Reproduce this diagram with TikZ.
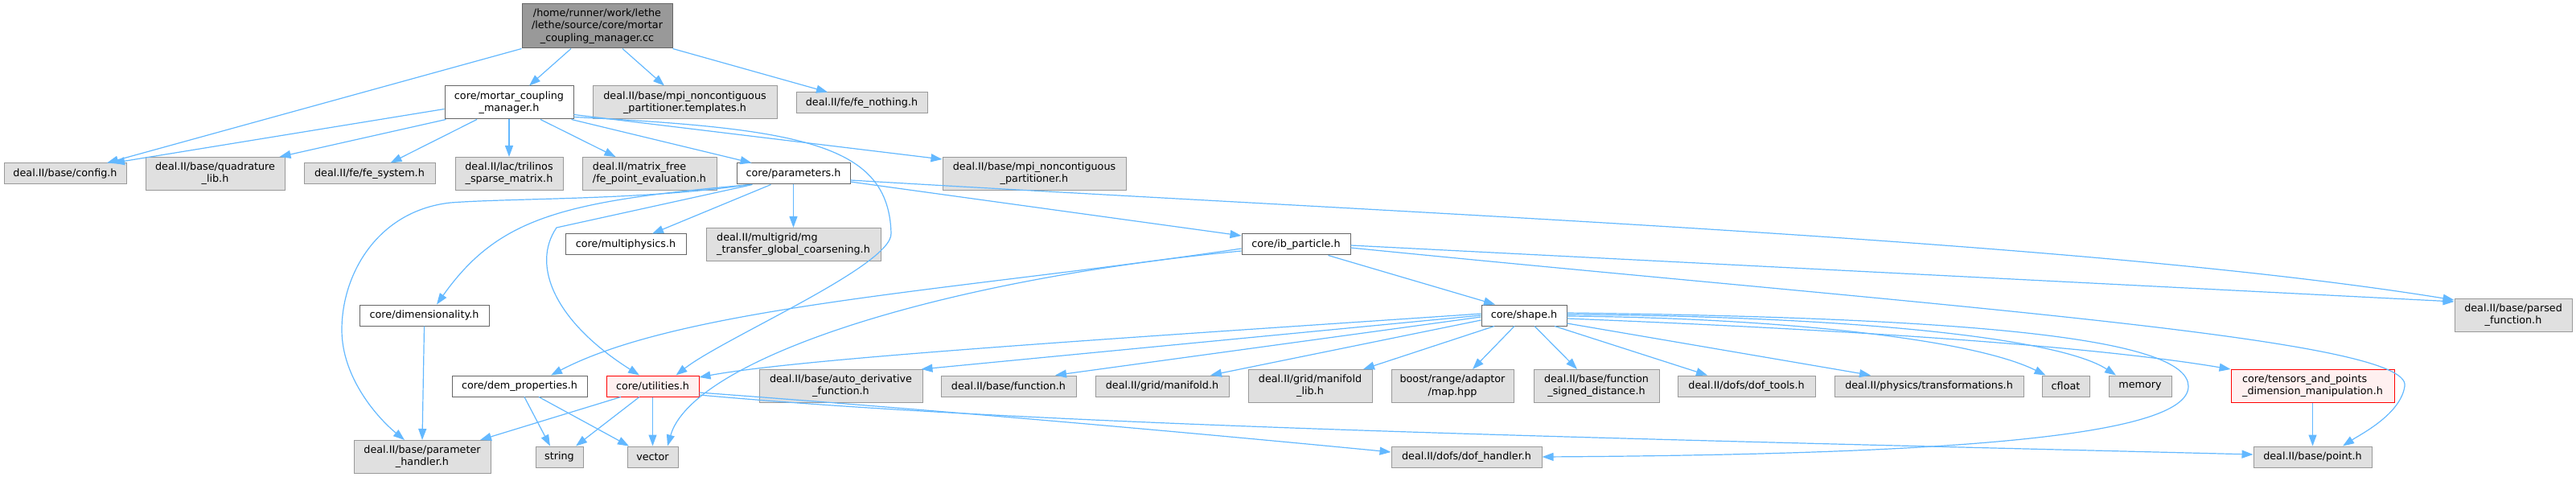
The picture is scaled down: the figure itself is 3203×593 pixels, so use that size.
\documentclass[tikz,border=0pt]{standalone}
\usepackage{fontspec}
\setmainfont{DejaVu Sans}
\usetikzlibrary{arrows.meta}
\definecolor{edgeblue}{HTML}{63B8FF}
\definecolor{boxgrey}{HTML}{E0E0E0}
\definecolor{bordergrey}{HTML}{999999}
\definecolor{borderdark}{HTML}{666666}
\definecolor{rootgrey}{HTML}{999999}
\definecolor{redfill}{HTML}{FFF0F0}
\definecolor{redline}{HTML}{FF0000}
\begin{document}
\begin{tikzpicture}[x=1pt,y=-1pt,
  box/.style={draw, line width=1pt, inner sep=0pt, align=center, anchor=center,
    font=\fontsize{12.75}{15.3}\selectfont, text=black},
  greybox/.style={box, fill=boxgrey, draw=bordergrey},
  whitebox/.style={box, fill=white, draw=borderdark},
  rootbox/.style={box, fill=rootgrey, draw=borderdark},
  redbox/.style={box, fill=redfill, draw=redline},
  one/.style={minimum height=26pt},
  two/.style={minimum height=41pt},
  three/.style={minimum height=55pt},
  edge/.style={draw=edgeblue, line width=1.2pt, -{Triangle[length=14pt,width=10pt]}}
]
\useasboundingbox (0,0) rectangle (3203,593);

% ---------- nodes ----------
\node[rootbox, three, minimum width=187pt] (root) at (742.5,32.5)
  {/home/runner/work/lethe\\/lethe/source/core/mortar\\\_coupling\_manager.cc};
\node[whitebox, two, minimum width=160pt] (mortar) at (633,127.5) {core/mortar\_coupling\\\_manager.h};
\node[greybox, two, minimum width=229pt] (mpitempl) at (851.5,127.5) {deal.II/base/mpi\_noncontiguous\\\_partitioner.templates.h};
\node[greybox, one, minimum width=163pt] (fenothing) at (1071.5,128) {deal.II/fe/fe\_nothing.h};

\node[greybox, one, minimum width=152pt] (config) at (81,216) {deal.II/base/config.h};
\node[greybox, two, minimum width=173pt] (quad) at (267.5,216) {deal.II/base/quadrature\\\_lib.h};
\node[greybox, one, minimum width=163pt] (fesystem) at (459.5,216) {deal.II/fe/fe\_system.h};
\node[greybox, two, minimum width=134pt] (trilinos) at (633,216) {deal.II/lac/trilinos\\\_sparse\_matrix.h};
\node[greybox, two, minimum width=167pt, align=left] (matfree) at (807.5,216) {deal.II/matrix\_free\\/fe\_point\_evaluation.h};
\node[whitebox, one, minimum width=141pt] (params) at (986.5,216) {core/parameters.h};
\node[greybox, two, minimum width=228pt] (mpinc) at (1286,216) {deal.II/base/mpi\_noncontiguous\\\_partitioner.h};

\node[whitebox, one, minimum width=150pt] (multiphys) at (778,304) {core/multiphysics.h};
\node[greybox, two, minimum width=217pt, align=left] (mgtransfer) at (986.5,304) {deal.II/multigrid/mg\\\_transfer\_global\_coarsening.h};
\node[whitebox, one, minimum width=135pt] (ibparticle) at (1611.5,304) {core/ib\_particle.h};

\node[whitebox, one, minimum width=161pt] (dimensionality) at (527.5,392) {core/dimensionality.h};
\node[whitebox, one, minimum width=106pt] (shape) at (1895,392) {core/shape.h};
\node[greybox, two, minimum width=146pt] (parsed) at (3125,392) {deal.II/base/parsed\\\_function.h};

\node[whitebox, one, minimum width=168pt] (demprop) at (646,480) {core/dem\_properties.h};
\node[redbox, one, minimum width=115pt] (utilities) at (811.5,480) {core/utilities.h};
\node[greybox, two, minimum width=203pt] (autoderiv) at (1045.5,480) {deal.II/base/auto\_derivative\\\_function.h};
\node[greybox, one, minimum width=168pt] (function) at (1254,480) {deal.II/base/function.h};
\node[greybox, one, minimum width=166pt] (manifold) at (1445,480) {deal.II/grid/manifold.h};
\node[greybox, two, minimum width=154pt] (manifoldlib) at (1629,480) {deal.II/grid/manifold\\\_lib.h};
\node[greybox, two, minimum width=152pt] (mappp) at (1806,480) {boost/range/adaptor\\/map.hpp};
\node[greybox, two, minimum width=156pt] (fsd) at (1985,480) {deal.II/base/function\\\_signed\_distance.h};
\node[greybox, one, minimum width=171pt] (doftools) at (2171.5,480) {deal.II/dofs/dof\_tools.h};
\node[greybox, one, minimum width=235pt] (transf) at (2398.5,480) {deal.II/physics/transformations.h};
\node[greybox, one, minimum width=59pt] (cfloat) at (2568.5,480) {cfloat};
\node[greybox, one, minimum width=78pt] (memory) at (2661,480) {memory};
\node[redbox, two, minimum width=203pt, align=left] (tensors) at (2875.5,480) {core/tensors\_and\_points\\\_dimension\_manipulation.h};

\node[greybox, two, minimum width=170pt] (paramhandler) at (525,568) {deal.II/base/parameter\\\_handler.h};
\node[greybox, one, minimum width=59pt] (string) at (695.5,568) {string};
\node[greybox, one, minimum width=63pt] (vector) at (811.5,568) {vector};
\node[greybox, one, minimum width=187pt] (dofhandler) at (1823.5,568) {deal.II/dofs/dof\_handler.h};
\node[greybox, one, minimum width=147pt] (point) at (2875.5,568) {deal.II/base/point.h};

% ---------- edges ----------
% root
\draw[edge] (root.south west) -- ([xshift=52pt]config.north);
\draw[edge] ([xshift=-32.5pt]root.south) -- ([xshift=25pt]mortar.north);
\draw[edge] ([xshift=31.5pt]root.south) -- ([xshift=-25.5pt]mpitempl.north);
\draw[edge] (root.south east) -- ([xshift=-42.5pt]fenothing.north);
% mortar
\draw[edge] ([yshift=-8pt]mortar.west) -- ([xshift=60pt]config.north);
\draw[edge] ([xshift=2pt]mortar.south west) -- ([xshift=80pt]quad.north);
\draw[edge] ([xshift=-40pt]mortar.south) -- ([xshift=26pt]fesystem.north);
\draw[edge] (mortar.south) -- (trilinos.north);
\draw[edge] ([xshift=39pt]mortar.south) -- ([xshift=-42pt]matfree.north);
\draw[edge] ([xshift=-3pt]mortar.south east) -- ([xshift=-52pt]params.north);
\draw[edge] ([yshift=-15pt]mortar.east) -- ([yshift=18pt]mpinc.west);
\draw[edge] ([yshift=-18pt]mortar.east) .. controls (1000,160) and (1105,180) .. (1108,290)
  .. controls (1110,330) and (900,420) .. ([xshift=29pt]utilities.north);
% parameters
\draw[edge] ([xshift=-55pt]params.south) .. controls (800,249) and (640,246) .. (560,252)
  .. controls (470,262) and (425,340) .. (425,410)
  .. controls (425,470) and (470,520) .. ([xshift=-22pt]paramhandler.north);
\draw[edge] ([xshift=-53pt]params.south) .. controls (700,250) and (620,270) .. ([xshift=15.5pt]dimensionality.north);
\draw[edge] ([xshift=-51pt]params.south) -- (692,283)
  .. controls (660,330) and (690,400) .. ([xshift=-16.5pt]utilities.north);
\draw[edge] ([xshift=-28pt]params.south) -- ([xshift=33pt]multiphys.north);
\draw[edge] (params.south) -- (mgtransfer.north);
\draw[edge] ([yshift=-10pt]params.east) -- ([yshift=11pt]ibparticle.west);
\draw[edge] ([yshift=-8pt]params.east) .. controls (1800,268) and (2600,300) .. ([yshift=19pt]parsed.west);
% ib_particle
\draw[edge] ([xshift=40pt]ibparticle.south) -- ([xshift=-36pt]shape.north);
\draw[edge] ([yshift=-1pt]ibparticle.east) -- ([yshift=17pt]parsed.west);
\draw[edge] ([yshift=-4pt]ibparticle.east) .. controls (2400,380) and (3000,420) .. (2990,480)
  .. controls (2985,515) and (2935,540) .. ([xshift=37.5pt]point.north);
\draw[edge] ([yshift=-5pt]ibparticle.west) .. controls (1200,360) and (850,380) .. ([xshift=39pt]demprop.north);
\draw[edge] ([yshift=-8pt]ibparticle.west) .. controls (1150,350) and (860,450) .. ([xshift=18.5pt]vector.north);
% shape
\draw[edge] ([yshift=2pt]shape.west) .. controls (1400,420) and (1000,445) .. ([yshift=11pt]utilities.east);
\draw[edge] (shape.west) -- ([xshift=-2pt]autoderiv.north east);
\draw[edge] ([yshift=-2pt]shape.west) -- ([xshift=58pt]function.north);
\draw[edge] ([yshift=-6pt]shape.west) -- ([xshift=60pt]manifold.north);
\draw[edge] ([xshift=-37pt]shape.south) -- ([xshift=66pt]manifoldlib.north);
\draw[edge] ([xshift=-12pt]shape.south) -- ([xshift=25pt]mappp.north);
\draw[edge] ([xshift=13pt]shape.south) -- ([xshift=-24pt]fsd.north);
\draw[edge] ([xshift=38pt]shape.south) -- ([xshift=-48.5pt]doftools.north);
\draw[edge] ([yshift=-10pt]shape.east) -- ([xshift=-72.5pt]transf.north);
\draw[edge] ([yshift=-1pt]shape.east) .. controls (2200,395) and (2450,420) .. ([xshift=-25pt]cfloat.north);
\draw[edge] ([yshift=1pt]shape.east) .. controls (2300,393) and (2560,420) .. ([xshift=-30pt]memory.north);
\draw[edge] ([yshift=-4pt]shape.east) .. controls (2300,410) and (2600,430) .. (tensors.north west);
\draw[edge] ([yshift=3pt]shape.east) .. controls (2450,395) and (2720,420) .. (2721,480)
  .. controls (2722,545) and (2400,565) .. (dofhandler.east);
% utilities
\draw[edge] ([xshift=-39.5pt]utilities.south) -- ([xshift=72pt]paramhandler.north);
\draw[edge] ([xshift=-16.5pt]utilities.south) -- ([xshift=20.5pt]string.north);
\draw[edge] (utilities.south) -- (vector.north);
\draw[edge] ([yshift=-8pt]utilities.east) .. controls (1100,505) and (1400,530) .. ([yshift=6pt]dofhandler.west);
\draw[edge] ([yshift=-11pt]utilities.east) .. controls (1300,530) and (2000,545) .. ([yshift=3pt]point.west);
% others
\draw[edge] ([xshift=6pt]demprop.south) -- ([xshift=-11.5pt]string.north);
\draw[edge] ([xshift=24pt]demprop.south) -- ([xshift=-29.5pt]vector.north);
\draw[edge] (dimensionality.south) -- (paramhandler.north);
\draw[edge] (tensors.south) -- (point.north);
\end{tikzpicture}
\end{document}
